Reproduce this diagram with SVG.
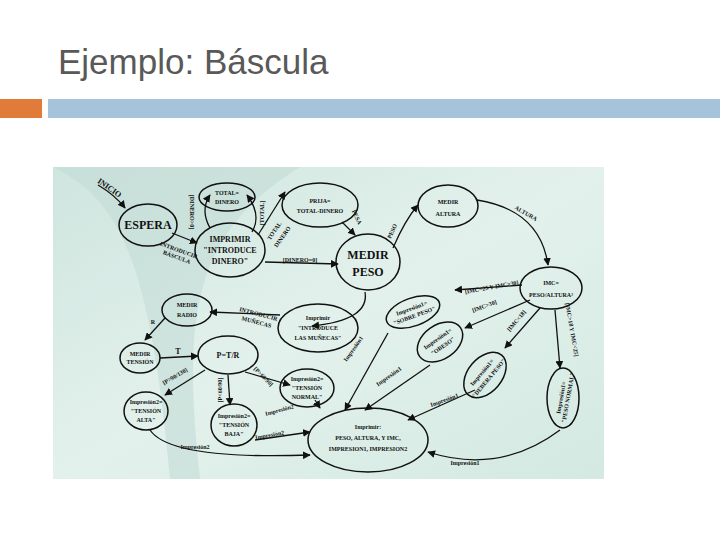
<svg xmlns="http://www.w3.org/2000/svg" width="720" height="540" viewBox="0 0 720 540">
<defs>
<marker id="a" viewBox="0 0 10 10" refX="9" refY="5" markerWidth="6" markerHeight="6" orient="auto"><path d="M0,0L10,5L0,10z" fill="#111"/></marker>
<linearGradient id="bg" x1="0" y1="0" x2="1" y2="1"><stop offset="0" stop-color="#cfe5df"/><stop offset="0.5" stop-color="#e3f1ec"/><stop offset="1" stop-color="#d3e9e2"/></linearGradient>
</defs>
<style>
.n ellipse{fill:none;stroke:#111;stroke-width:1.5}
text{font-family:"Liberation Serif",serif;font-weight:bold;fill:#111;text-anchor:middle}
.s{font-size:6px}.m{font-size:8px}.l{font-size:12px}
.c path{fill:none;stroke:#111;stroke-width:1.3;marker-end:url(#a)}
</style>
<rect width="720" height="540" fill="#fff"/>
<text x="58" y="74" style="font-family:'Liberation Sans',sans-serif;font-weight:normal;font-size:35px;fill:#595959;text-anchor:start">Ejemplo: Báscula</text>
<rect x="0" y="99" width="42" height="19" fill="#e07b39"/>
<rect x="48" y="99" width="672" height="19" fill="#a5c3da"/>
<rect x="53" y="167" width="551" height="312" fill="url(#bg)"/>
<path d="M53,167 C120,200 150,260 170,479 L200,479 C180,300 200,230 300,167z" fill="#c3dcd6" opacity="0.6"/>
<g class="c">
<path d="M98,185 Q115,195 125,208"/>
<path d="M172,233 L197,243"/>
<path d="M210,228 Q200,210 210,195"/>
<path d="M252,232 Q262,215 247,195"/>
<path d="M258,235 L285,192"/>
<path d="M265,262 L338,264"/>
<path d="M342,222 Q352,232 355,235"/>
<path d="M393,248 Q405,220 418,205"/>
<path d="M477,200 Q540,210 548,265"/>
<path d="M522,285 L455,290"/>
<path d="M530,300 L465,328"/>
<path d="M540,308 L505,348"/>
<path d="M555,310 L560,368"/>
<path d="M365,292 Q370,320 312,326"/>
<path d="M280,315 L210,312"/>
<path d="M165,318 L145,340"/>
<path d="M160,358 L198,356"/>
<path d="M205,370 L165,395"/>
<path d="M228,375 L230,405"/>
<path d="M245,372 L290,385"/>
<path d="M388,333 L345,410"/>
<path d="M430,365 L365,410"/>
<path d="M475,390 L408,420"/>
<path d="M560,430 Q500,475 428,452"/>
<path d="M315,400 L320,408"/>
<path d="M255,440 L310,432"/>
<path d="M150,430 Q170,460 310,455"/>
</g>
<g class="c-labels">
<text class="m" x="108" y="190" transform="rotate(35 108 190)">INICIO</text>
<text class="s" x="178" y="252" transform="rotate(20 178 252)">INTRODUCIR</text>
<text class="s" x="176" y="259" transform="rotate(20 176 259)">BÁSCULA</text>
<text class="s" x="190" y="212" transform="rotate(90 190 212)">[DINERO&gt;0]</text>
<text class="s" x="264" y="213" transform="rotate(-90 264 213)">[TOTAL]</text>
<text class="s" x="276" y="232" transform="rotate(-55 276 232)">TOTAL</text>
<text class="s" x="284" y="238" transform="rotate(-55 284 238)">DINERO</text>
<text class="s" x="300" y="262">[DINERO=0]</text>
<text class="s" x="355" y="218" transform="rotate(65 355 218)">PESA</text>
<text class="s" x="394" y="232" transform="rotate(-65 394 232)">PESO</text>
<text class="s" x="525" y="215" transform="rotate(30 525 215)">ALTURA</text>
<text class="s" x="492" y="289" transform="rotate(-10 492 289)">[IMC&lt;25 Y IMC&gt;30]</text>
<text class="s" x="485" y="308" transform="rotate(-20 485 308)">[IMC&gt;30]</text>
<text class="s" x="518" y="322" transform="rotate(-50 518 322)">[IMC&lt;18]</text>
<text class="s" x="570" y="330" transform="rotate(80 570 330)">[IMC&gt;18 Y IMC&lt;25]</text>
<text class="s" x="258" y="316" transform="rotate(15 258 316)">INTRODUCIR</text>
<text class="s" x="256" y="324" transform="rotate(15 256 324)">MUÑECAS</text>
<text class="s" x="153" y="324">R</text>
<text class="m" x="178" y="354">T</text>
<text class="s" x="176" y="378" transform="rotate(-30 176 378)">[P&gt;90/130]</text>
<text class="s" x="222" y="390" transform="rotate(-90 222 390)">[P&lt;60/90]</text>
<text class="s" x="262" y="378" transform="rotate(45 262 378)">[P&gt;60/90]</text>
<text class="s" x="355" y="350" transform="rotate(-55 355 350)">Impresión1</text>
<text class="s" x="390" y="378" transform="rotate(-35 390 378)">Impresión1</text>
<text class="s" x="445" y="402" transform="rotate(-20 445 402)">Impresión1</text>
<text class="s" x="465" y="465">Impresión1</text>
<text class="s" x="280" y="412" transform="rotate(-15 280 412)">Impresión2</text>
<text class="s" x="270" y="437" transform="rotate(-10 270 437)">Impresión2</text>
<text class="s" x="195" y="449">Impresión2</text>
</g>
<g id="espera" class="n"><ellipse cx="148" cy="225" rx="29" ry="21"/><text class="l" x="148" y="229">ESPERA</text></g>
<g id="total" class="n"><ellipse cx="227" cy="197" rx="28" ry="14"/><text class="s" x="227" y="195">TOTAL=</text><text class="s" x="227" y="204">DINERO</text></g>
<g id="imprimir" class="n"><ellipse cx="230" cy="250" rx="35" ry="27"/><text class="m" x="230" y="242">IMPRIMIR</text><text class="m" x="230" y="253">"INTRODUCE</text><text class="m" x="230" y="264">DINERO"</text></g>
<g id="resta" class="n"><ellipse cx="320" cy="205" rx="38" ry="22"/><text class="s" x="320" y="203">PRIJA=</text><text class="s" x="320" y="213">TOTAL-DINERO</text></g>
<g id="peso" class="n"><ellipse cx="368" cy="262" rx="32" ry="28"/><text class="l" x="368" y="259">MEDIR</text><text class="l" x="368" y="276">PESO</text></g>
<g id="altura" class="n"><ellipse cx="448" cy="206" rx="30" ry="21"/><text class="s" x="448" y="204">MEDIR</text><text class="s" x="448" y="216">ALTURA</text></g>
<g id="imc" class="n"><ellipse cx="551" cy="288" rx="31" ry="21"/><text class="s" x="551" y="285">IMC=</text><text class="s" x="551" y="297">PESO/ALTURA²</text></g>
<g id="radio" class="n"><ellipse cx="187" cy="310" rx="25" ry="16"/><text class="s" x="187" y="307">MEDIR</text><text class="s" x="187" y="317">RADIO</text></g>
<g id="munecas" class="n"><ellipse cx="318" cy="328" rx="40" ry="24"/><text class="s" x="318" y="320">Imprimir</text><text class="s" x="318" y="330">"INTRODUCE</text><text class="s" x="318" y="340">LAS MUÑECAS"</text></g>
<g id="sobrepeso" class="n"><ellipse cx="413" cy="312" rx="28" ry="14" transform="rotate(-20 413 312)"/><text class="s" x="413" y="310" transform="rotate(-20 413 312)">Impresión1=</text><text class="s" x="413" y="318" transform="rotate(-20 413 312)">"SOBRE PESO"</text></g>
<g id="obeso" class="n"><ellipse cx="440" cy="342" rx="25" ry="17" transform="rotate(-35 440 342)"/><text class="s" x="440" y="340" transform="rotate(-35 440 342)">Impresión1=</text><text class="s" x="440" y="349" transform="rotate(-35 440 342)">"OBESO"</text></g>
<g id="delgadez" class="n"><ellipse cx="485" cy="375" rx="26" ry="17" transform="rotate(-50 485 375)"/><text class="s" x="485" y="373" transform="rotate(-50 485 375)">Impresión1=</text><text class="s" x="485" y="382" transform="rotate(-50 485 375)">"DEBERA PESO"</text></g>
<g id="normal" class="n"><ellipse cx="563" cy="398" rx="16" ry="30"/><text class="s" x="563" y="398" transform="rotate(-80 563 398)">Impresión1=</text><text class="s" x="570" y="398" transform="rotate(-80 570 398)">"PESO NORMAL"</text></g>
<g id="tension" class="n"><ellipse cx="140" cy="358" rx="20" ry="15"/><text class="s" x="140" y="356">MEDIR</text><text class="s" x="140" y="364">TENSIÓN</text></g>
<g id="ptr" class="n"><ellipse cx="228" cy="355" rx="30" ry="19"/><text class="m" x="228" y="358">P=T/R</text></g>
<g id="tnormal" class="n"><ellipse cx="307" cy="388" rx="27" ry="19"/><text class="s" x="307" y="381">Impresión2=</text><text class="s" x="307" y="390">"TENSIÓN</text><text class="s" x="307" y="399">NORMAL"</text></g>
<g id="talta" class="n"><ellipse cx="146" cy="411" rx="22" ry="19"/><text class="s" x="146" y="404">Impresión2=</text><text class="s" x="146" y="413">"TENSIÓN</text><text class="s" x="146" y="422">ALTA"</text></g>
<g id="tbaja" class="n"><ellipse cx="234" cy="425" rx="23" ry="21"/><text class="s" x="234" y="418">Impresión2=</text><text class="s" x="234" y="427">"TENSIÓN</text><text class="s" x="234" y="436">BAJA"</text></g>
<g id="final" class="n"><ellipse cx="368" cy="440" rx="60" ry="32"/><text class="s" x="368" y="429">Imprimir:</text><text class="s" x="368" y="440">PESO, ALTURA, Y IMC,</text><text class="s" x="368" y="451">IMPRESION1, IMPRESION2</text></g>
</svg>
